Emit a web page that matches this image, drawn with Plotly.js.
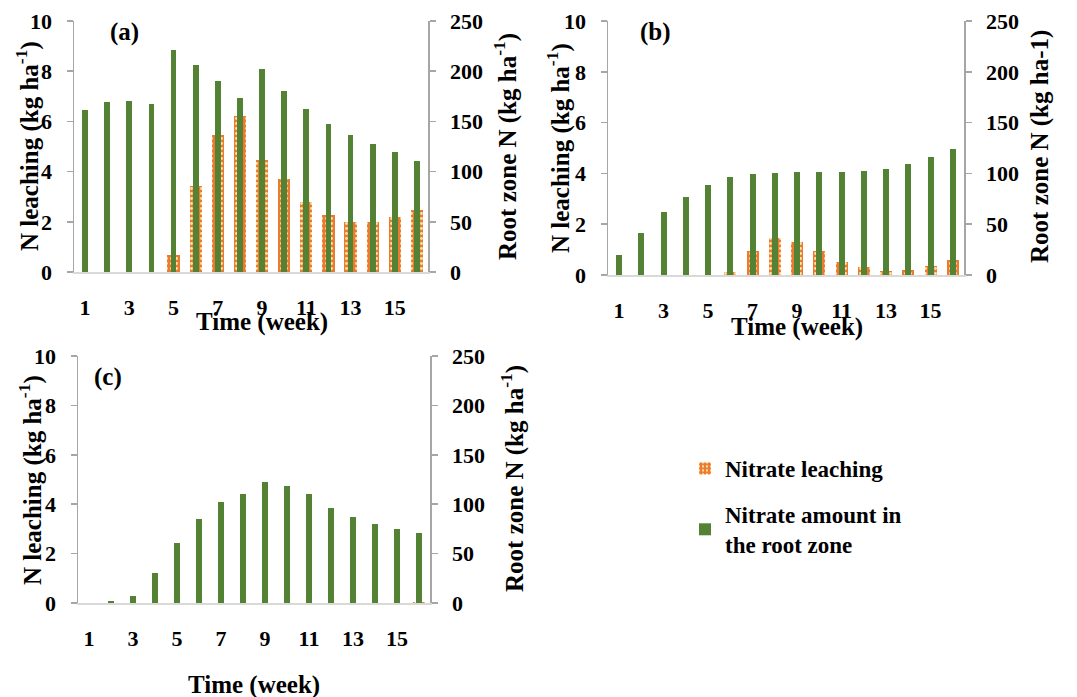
<!DOCTYPE html>
<html>
<head>
<meta charset="utf-8">
<script src="https://cdn.plot.ly/plotly-3.0.1.min.js"></script>
<style>
  html, body { margin: 0; padding: 0; background: #ffffff; }
  #chart { width: 1077px; height: 697px; }
</style>
</head>
<body>
<div id="chart"></div>
<script>
// ---------------- data ----------------
const weeks = [1, 2, 3, 4, 5, 6, 7, 8, 9, 10, 11, 12, 13, 14, 15, 16];
const xTickVals = [1, 3, 5, 7, 9, 11, 13, 15];
const xTickText = ["1", "3", "5", "7", "9", "11", "13", "15"];
const leftTicks = [0, 2, 4, 6, 8, 10];
const rightTicks = [0, 50, 100, 150, 200, 250];

// (a)
const leachA = [0, 0, 0, 0, 0.66, 3.43, 5.44, 6.23, 4.45, 3.72, 2.80, 2.28, 1.99, 2.00, 2.20, 2.48];
const rootA  = [161, 169, 170, 167, 221, 206, 190, 173, 202, 180, 162, 147, 136, 127, 120, 111];
// (b)
const leachB = [0, 0, 0, 0, 0, 0.13, 0.96, 1.45, 1.28, 0.96, 0.51, 0.30, 0.16, 0.21, 0.37, 0.58];
const rootB  = [20, 41, 62, 77, 89, 96, 99, 100, 101, 101, 101, 102, 104, 109, 116, 124];
// (c)
const leachC = [0, 0, 0, 0, 0, 0, 0, 0, 0, 0, 0, 0, 0, 0, 0, 0.03];
const rootC  = [0, 2.4, 6.7, 30, 61, 85, 102, 110, 122, 118, 110, 96, 87, 80, 75, 71];

const seriesNames = ["Nitrate leaching", "Nitrate amount in<br>the root zone"];
const panelLabels = ["(a)", "(b)", "(c)"];
const xTitle = "Time (week)";
const leftTitle = "N leaching (kg ha<sup>-1</sup>)";
const rightTitles = ["Root zone N (kg ha<sup>-1</sup>)", "Root zone N (kg ha-1)", "Root zone N (kg ha<sup>-1</sup>)"];

// ---------------- style ----------------
const W = 1077, H = 697;
const FONT = "Liberation Serif";
const ORANGE = "#EB7B30";
const GREEN = "#548235";
const AXGRAY = "#A6A6A6";
const BASEGRAY = "#D9D9D9";
const px = x => x / W;
const py = y => 1 - y / H;

const boxes = [
  [74, 428, 21, 272],
  [608, 964, 21, 275],
  [78, 430, 356, 603]
];

const leachSets = [leachA, leachB, leachC];
const rootSets = [rootA, rootB, rootC];
const fnt = (size) => ({family: FONT, size: size, color: "#000000", weight: 700});

const traces = [];
const layout = {
  width: W, height: H,
  margin: {l: 0, r: 0, t: 0, b: 0},
  paper_bgcolor: "#ffffff",
  plot_bgcolor: "rgba(0,0,0,0)",
  font: fnt(22),
  showlegend: true,
  legend: {
    x: px(685), y: py(447), xanchor: "left", yanchor: "top",
    font: fnt(23),
    traceorder: "grouped", tracegroupgap: 13,
    bgcolor: "rgba(0,0,0,0)"
  },
  annotations: [],
  bargap: 0
};

for (let i = 0; i < 3; i++) {
  const b = boxes[i];
  const xn = i === 0 ? "" : String(i + 1);
  const yl = i === 0 ? "" : String(2 * i + 1);
  const yr = String(2 * i + 2);

  layout["xaxis" + xn] = {
    domain: [px(b[0]), px(b[1])],
    anchor: "y" + yl,
    range: [0.5, 16.5],
    tickmode: "array", tickvals: xTickVals, ticktext: xTickText,
    ticks: "outside", ticklen: 0, tickcolor: "rgba(0,0,0,0)",
    ticklabelstandoff: 15,
    showline: true, linecolor: BASEGRAY, linewidth: 1.5,
    showgrid: false, zeroline: false, fixedrange: true,
    tickfont: fnt(22)
  };
  layout["yaxis" + yl] = {
    domain: [py(b[3]), py(b[2])],
    anchor: "x" + xn,
    range: [0, 10], tickmode: "array", tickvals: leftTicks,
    ticks: "outside", ticklen: 6, tickcolor: AXGRAY, tickwidth: 1.5,
    ticklabelstandoff: 10,
    showline: true, linecolor: AXGRAY, linewidth: 1.5,
    showgrid: false, zeroline: false, fixedrange: true,
    tickfont: fnt(22)
  };
  layout["yaxis" + yr] = {
    overlaying: "y" + yl, side: "right",
    anchor: "x" + xn,
    range: [0, 250], tickmode: "array", tickvals: rightTicks,
    ticks: "outside", ticklen: 6, tickcolor: AXGRAY, tickwidth: 1.5,
    ticklabelstandoff: 10,
    showline: true, linecolor: AXGRAY, linewidth: 1.5,
    showgrid: false, zeroline: false, fixedrange: true,
    tickfont: fnt(22)
  };

  traces.push({
    type: "bar", x: weeks, y: leachSets[i],
    xaxis: "x" + xn, yaxis: "y" + yl,
    width: 0.55, name: seriesNames[0], legendgroup: "leach",
    showlegend: i === 0,
    marker: {
      color: ORANGE,
      line: {width: 0},
      pattern: {shape: ".", fgcolor: "#FBE3A8", bgcolor: ORANGE, size: 5, solidity: 0.25}
    },
    hoverinfo: "skip"
  });
  traces.push({
    type: "bar", x: weeks, y: rootSets[i],
    xaxis: "x" + xn, yaxis: "y" + yr,
    width: 0.26, name: seriesNames[1], legendgroup: "root",
    showlegend: i === 0,
    marker: {color: GREEN, line: {width: 0}},
    hoverinfo: "skip"
  });
}

const labelPos = [[124, 32], [655, 32], [108, 377]];
const leftTitlePos = [[27, 146], [558, 148], [30, 480]];
const rightTitlePos = [[505, 147], [1040, 147], [512, 479]];
const xTitlePos = [[262, 322], [797, 327], [254, 685]];

for (let i = 0; i < 3; i++) {
  layout.annotations.push({
    text: panelLabels[i], xref: "paper", yref: "paper",
    x: px(labelPos[i][0]), y: py(labelPos[i][1]),
    xanchor: "center", yanchor: "middle", showarrow: false,
    font: fnt(25)
  });
  layout.annotations.push({
    text: leftTitle, xref: "paper", yref: "paper",
    x: px(leftTitlePos[i][0]), y: py(leftTitlePos[i][1]),
    xanchor: "center", yanchor: "middle", showarrow: false, textangle: -90,
    font: fnt(25)
  });
  layout.annotations.push({
    text: rightTitles[i], xref: "paper", yref: "paper",
    x: px(rightTitlePos[i][0]), y: py(rightTitlePos[i][1]),
    xanchor: "center", yanchor: "middle", showarrow: false, textangle: -90,
    font: fnt(25)
  });
  layout.annotations.push({
    text: xTitle, xref: "paper", yref: "paper",
    x: px(xTitlePos[i][0]), y: py(xTitlePos[i][1]),
    xanchor: "center", yanchor: "middle", showarrow: false,
    font: fnt(25)
  });
}

Plotly.newPlot("chart", traces, layout, {staticPlot: true, displayModeBar: false});
</script>
</body>
</html>
